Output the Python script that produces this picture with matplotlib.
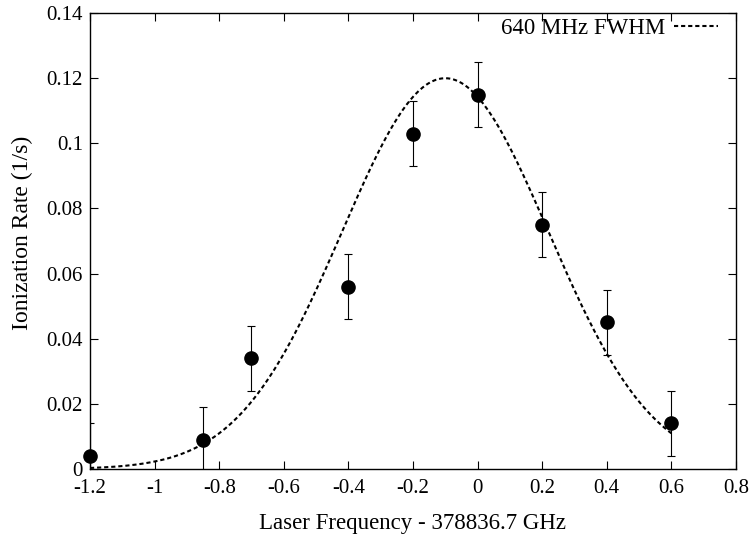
import numpy as np
import matplotlib
matplotlib.use("Agg")
import matplotlib.pyplot as plt
from matplotlib.ticker import FuncFormatter, MultipleLocator

# ---------------- data ----------------
freq = [-1.2, -0.85, -0.7, -0.4, -0.2, 0.0, 0.2, 0.4, 0.6]
rate = [0.004, 0.009, 0.034, 0.056, 0.103, 0.115, 0.075, 0.045, 0.014]
rate_err = [0.01, 0.01, 0.01, 0.01, 0.01, 0.01, 0.01, 0.01, 0.01]

# gaussian fit parameters
fit_amp = 0.120
fit_center = -0.10
fit_sigma = 0.32
fit_label = "640 MHz FWHM"

plt.rcParams["font.family"] = ["Liberation Serif", "DejaVu Serif"]
plt.rcParams["font.size"] = 15
plt.rcParams["axes.unicode_minus"] = False

fig = plt.figure(figsize=(7.55, 5.37), dpi=100)
ax = fig.add_axes([0.1192, 0.1266, 0.8556, 0.849])

xs = np.linspace(-1.2, 0.6, 300)
ax.plot(xs, fit_amp * np.exp(-(xs - fit_center) ** 2 / (2 * fit_sigma ** 2)),
        color="black", lw=1.5, linestyle=(0, (2, 1.4)), label=fit_label)

ax.errorbar(freq, rate, yerr=rate_err, fmt="none", ecolor="black",
            elinewidth=0.8, capsize=2.7, capthick=0.8)
ax.plot(freq, rate, "o", color="black", markersize=9.5, clip_on=False, zorder=5)

ax.set_xlim(-1.2, 0.8)
ax.set_ylim(0, 0.14)
ax.xaxis.set_major_locator(MultipleLocator(0.2))
ax.yaxis.set_major_locator(MultipleLocator(0.02))
fmt = FuncFormatter(lambda v, p: "%g" % round(v, 6))
ax.xaxis.set_major_formatter(fmt)
ax.yaxis.set_major_formatter(fmt)
ax.tick_params(direction="in", length=6, width=0.8, top=True, right=True, labelsize=15)
ax.tick_params(axis="x", pad=7)
ax.tick_params(axis="y", pad=5)
for s in ax.spines.values():
    s.set_linewidth(1.0)

ax.set_xlabel("Laser Frequency - 378836.7 GHz", fontsize=16.5, labelpad=11)
ax.set_ylabel("Ionization Rate (1/s)", fontsize=17)
ax.yaxis.set_label_coords(-0.088, 0.518)

ax.legend(loc="upper right", bbox_to_anchor=(0.979, 1.0), frameon=False,
          markerfirst=False, handlelength=1.9, borderaxespad=0.0,
          handletextpad=0.4, fontsize=16.5, borderpad=0.2)

fig.savefig("out.png", dpi=100)
